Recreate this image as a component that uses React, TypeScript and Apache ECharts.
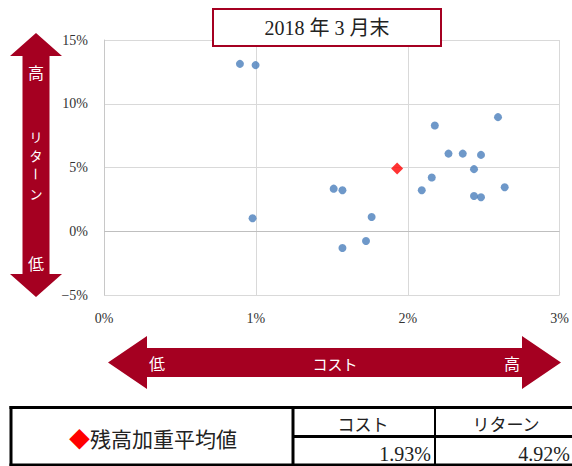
import React, { useEffect, useRef } from "react";
import * as echarts from "echarts";

const costs = [0.895, 0.998, 0.978, 1.512, 1.57, 1.762, 1.725, 1.57, 2.092, 2.158, 2.178, 2.268, 2.362, 2.482, 2.436, 2.436, 2.482, 2.638, 2.594];
const returns = [13.13, 13.03, 1.02, 3.34, 3.22, 1.12, -0.76, -1.31, 3.22, 4.21, 8.29, 6.09, 6.09, 5.99, 4.87, 2.77, 2.67, 3.45, 8.95];
const avgCost = 1.93;
const avgReturn = 4.92;
const titleText = "2018 年 3 月末";
const xTicks = [0, 1, 2, 3];
const yTicks = [-5, 0, 5, 10, 15];

const RED = "#A50021";
const SERIF = "Liberation Serif, Times New Roman, Noto Sans CJK JP, serif";
const JP = "Noto Sans CJK JP, sans-serif";

export default function App() {
  const ref = useRef<HTMLDivElement>(null);
  useEffect(() => {
    document.body.style.margin = "0";
    if (!ref.current) return;
    const chart = echarts.init(ref.current, null, { renderer: "svg" });
    const pts = costs.map((c, i) => [c, returns[i]]);
    const fmtPct = (v: number) => (v < 0 ? "\u2212" + Math.abs(v) : String(v)) + "%";
    const wTxt = (x: number, y: number, t: string, size = 16, rot = 0) => ({
      type: "text",
      x,
      y,
      rotation: rot,
      style: { text: t, fontFamily: JP, fontSize: size, lineHeight: size, fill: "#fff", align: "center", verticalAlign: "middle" },
      z: 101,
    });
    chart.setOption({
      animation: false,
      backgroundColor: "#ffffff",
      grid: { left: 104, top: 40, width: 457, height: 255, containLabel: false },
      xAxis: {
        type: "value",
        min: xTicks[0],
        max: xTicks[xTicks.length - 1],
        interval: 1,
        axisLine: { show: false, onZero: false },
        axisTick: { show: false },
        splitLine: { show: true, lineStyle: { color: "#d9d9d9", width: 1 } },
        axisLabel: { formatter: fmtPct, fontFamily: SERIF, fontSize: 14, color: "#333", margin: 16 },
      },
      yAxis: {
        type: "value",
        min: yTicks[0],
        max: yTicks[yTicks.length - 1],
        interval: 5,
        axisLine: { show: true, onZero: false, lineStyle: { color: "#c8c8c8" } },
        axisTick: { show: false },
        splitLine: { show: true, lineStyle: { color: "#d9d9d9", width: 1 } },
        axisLabel: { formatter: fmtPct, fontFamily: SERIF, fontSize: 14, color: "#333", margin: 16 },
      },
      series: [
        {
          type: "scatter",
          data: pts,
          symbol: "circle",
          symbolSize: 8,
          itemStyle: { color: "#4A7EBB" },
          z: 3,
          markLine: {
            silent: true,
            symbol: ["none", "none"],
            label: { show: false },
            lineStyle: { color: "#bfbfbf", type: "solid", width: 1 },
            data: [{ yAxis: 0 }],
          },
        },
        {
          type: "scatter",
          data: [[avgCost, avgReturn]],
          symbol: "diamond",
          symbolSize: 12,
          itemStyle: { color: "#FF0000" },
          z: 4,
        },
      ],
      graphic: [
        {
          type: "rect",
          shape: { x: 213, y: 9, width: 228, height: 37 },
          style: { fill: "#ffffff", stroke: RED, lineWidth: 2 },
          z: 100,
        },
        {
          type: "text",
          x: 327,
          y: 28,
          style: { text: titleText, fontFamily: SERIF, fontSize: 20, fill: "#222", align: "center", verticalAlign: "middle" },
          z: 101,
        },
        {
          type: "polygon",
          shape: {
            points: [[36, 33], [62, 56], [49.5, 56], [49.5, 274], [62, 274], [36, 297], [10, 274], [22.5, 274], [22.5, 56], [10, 56]],
          },
          style: { fill: RED },
          z: 100,
        },
        wTxt(36, 72, "高"),
        wTxt(36, 136, "リ", 13),
        wTxt(36, 155, "タ", 13),
        wTxt(36, 174, "ー", 13, -Math.PI / 2),
        wTxt(36, 193, "ン", 13),
        wTxt(36, 263, "低"),
        {
          type: "polygon",
          shape: {
            points: [[108, 362.5], [147, 336], [147, 348], [522, 348], [522, 336], [561, 362.5], [522, 389], [522, 377], [147, 377], [147, 389]],
          },
          style: { fill: RED },
          z: 100,
        },
        wTxt(157, 363, "低"),
        wTxt(335, 363, "コスト", 15),
        wTxt(512, 363, "高"),
        { type: "line", shape: { x1: 9.5, y1: 407.5, x2: 572, y2: 407.5 }, style: { stroke: "#000", lineWidth: 3 }, z: 100 },
        { type: "line", shape: { x1: 9.5, y1: 465, x2: 572, y2: 465 }, style: { stroke: "#000", lineWidth: 3 }, z: 100 },
        { type: "line", shape: { x1: 11, y1: 406, x2: 11, y2: 466 }, style: { stroke: "#000", lineWidth: 3 }, z: 100 },
        { type: "line", shape: { x1: 293, y1: 406, x2: 293, y2: 466 }, style: { stroke: "#000", lineWidth: 3 }, z: 100 },
        { type: "line", shape: { x1: 435, y1: 406, x2: 435, y2: 466 }, style: { stroke: "#000", lineWidth: 2 }, z: 100 },
        { type: "line", shape: { x1: 293, y1: 436.5, x2: 572, y2: 436.5 }, style: { stroke: "#000", lineWidth: 3 }, z: 100 },
        {
          type: "text",
          x: 153,
          y: 438,
          style: {
            text: "{d|◆}{t|残高加重平均値}",
            align: "center",
            verticalAlign: "middle",
            rich: {
              d: { fontFamily: JP, fontSize: 21, fill: "#FF0000" },
              t: { fontFamily: JP, fontSize: 21, fill: "#222" },
            },
          },
          z: 101,
        },
        { type: "text", x: 363, y: 423, style: { text: "コスト", fontFamily: JP, fontSize: 17, fill: "#222", align: "center", verticalAlign: "middle" }, z: 101 },
        { type: "text", x: 506, y: 423, style: { text: "リターン", fontFamily: JP, fontSize: 17, fill: "#222", align: "center", verticalAlign: "middle" }, z: 101 },
        { type: "text", x: 431, y: 454, style: { text: avgCost.toFixed(2) + "%", fontFamily: SERIF, fontSize: 20, fill: "#222", align: "right", verticalAlign: "middle" }, z: 101 },
        { type: "text", x: 570, y: 454, style: { text: avgReturn.toFixed(2) + "%", fontFamily: SERIF, fontSize: 20, fill: "#222", align: "right", verticalAlign: "middle" }, z: 101 },
      ],
    });
    return () => chart.dispose();
  }, []);
  return <div ref={ref} style={{ width: 572, height: 466 }} />;
}
